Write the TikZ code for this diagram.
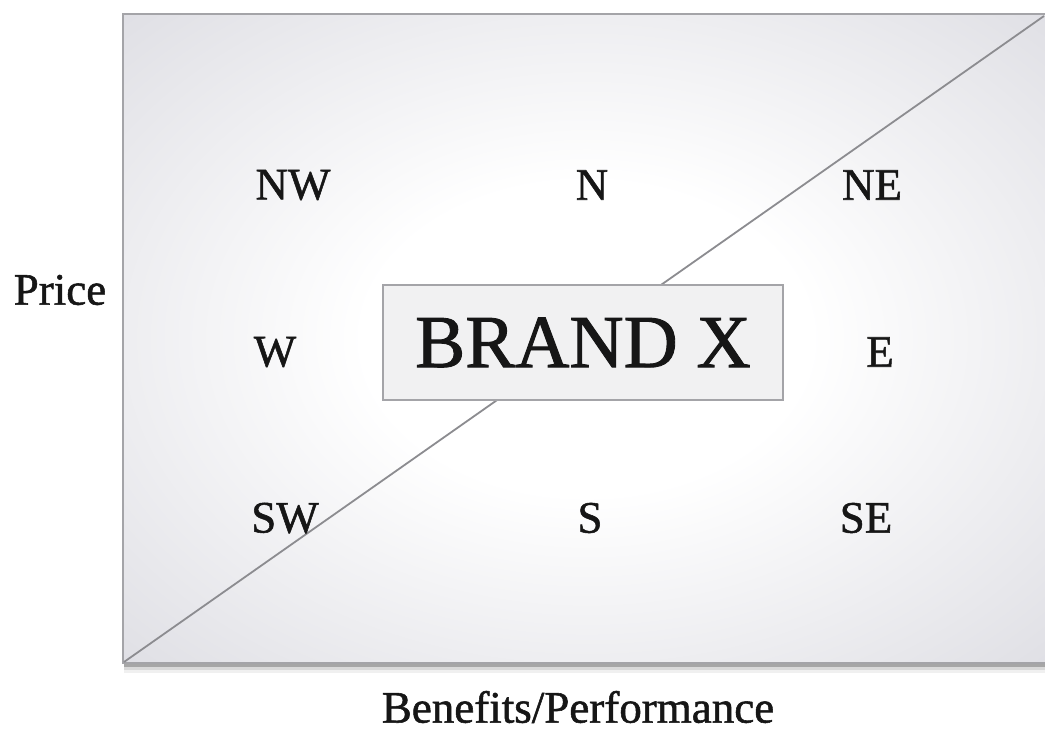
\documentclass[tikz,border=0pt]{standalone}
\usepackage{fontspec}
\setmainfont[FakeBold=0.8]{Liberation Serif}
\newfontfamily\heavyserif[FakeBold=1.2]{Liberation Serif}
\usetikzlibrary{positioning}
\definecolor{edgegray}{HTML}{DCDCE2}
\definecolor{framegray}{HTML}{A4A4A8}
\definecolor{linegray}{HTML}{8C8C90}
\definecolor{boxfill}{HTML}{F1F1F2}
\definecolor{ink}{HTML}{161616}
\pgfdeclareradialshading{glow}{\pgfpoint{0bp}{0bp}}{color(0bp)=(white); color(12bp)=(white); color(38bp)=(edgegray); color(50bp)=(edgegray)}
\tikzset{
  lab/.style={text=ink, font=\heavyserif\fontsize{45}{50}\selectfont, inner sep=0pt, anchor=center},
  axislab/.style={text=ink, font=\heavyserif\fontsize{45}{52}\selectfont, inner sep=0pt},
  brandbox/.style={draw=framegray, line width=2pt, fill=boxfill, text=ink,
    font=\heavyserif\fontsize{75}{80}\selectfont, minimum width=400pt, minimum height=115pt, inner sep=0pt},
  diag/.style={draw=linegray, line width=1.8pt},
}
\begin{document}
\begin{tikzpicture}[x=1pt,y=-1pt]
\useasboundingbox (0,0) rectangle (1045,734);
\clip (0,0) rectangle (1045,734);
\fill[white] (0,0) rectangle (1045,734);
% soft shadow below the frame
\fill[black!35] (124,663) rectangle (1050,667);
\fill[black!15] (124,667) rectangle (1050,670);
\fill[black!6] (124,670) rectangle (1050,673);
% quadrant area
\shade[shading=glow] (123,14) rectangle (1050,663);
\draw[framegray, line width=2.5pt] (1050,14) -- (123,14) -- (123,663) -- (1050,663);
% diagonal
\coordinate (bl) at (124,662);
\coordinate (tr) at (1044,16);
\draw[diag] (bl) -- (tr);
% central brand box
\node[brandbox] (brand) at (583,342.5) {\raisebox{-2pt}{BRAND X}};
% compass labels
\node[lab] (nw) at (293,185) {NW};
\node[lab] (n)  at (592,185) {N};
\node[lab] (ne) at (872,185) {NE};
\node[lab] (w)  at (275,352) {W};
\node[lab] (e)  at (880,352) {E};
\node[lab] (sw) at (285,518) {SW};
\node[lab] (s)  at (590,518) {S};
\node[lab] (se) at (866,518) {SE};
% axis labels
\node[axislab] (price) at (60,290) {Price};
\node[axislab] (bp) at (578,707) {Benefits/Performance};
\end{tikzpicture}
\end{document}
